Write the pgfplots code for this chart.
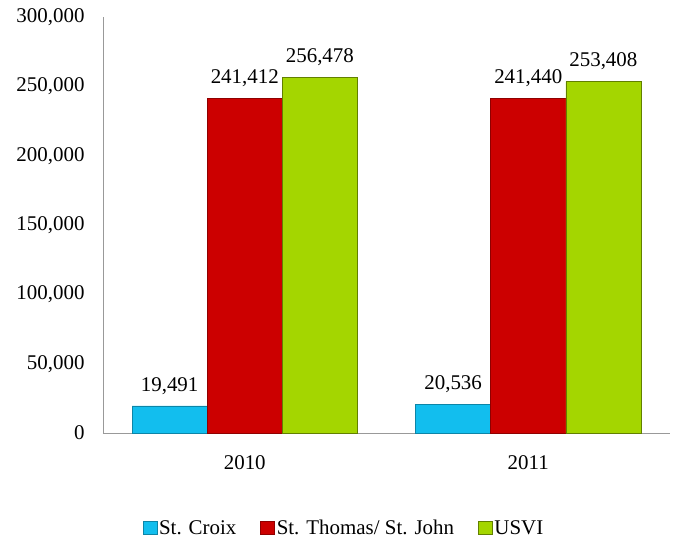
\documentclass[border=0pt]{standalone}
\usepackage{fontspec}
\setmainfont{Liberation Serif}
\newfontfamily\tnr{Liberation Serif}
\usepackage{pgfplots}
\pgfplotsset{compat=1.18}

\definecolor{croix}{RGB}{18,190,238}
\definecolor{thomas}{RGB}{204,0,0}
\definecolor{usvi}{RGB}{164,214,0}

\begin{document}
\begin{tikzpicture}[font=\tnr\fontsize{21}{25}\selectfont]
\begin{axis}[
    name=ax,
    scale only axis,
    width=567bp, height=416bp,
    ybar=0pt, bar width=0.265,
    xmin=-0.5, xmax=1.5,
    ymin=0, ymax=300000,
    xtick={0,1}, xticklabels={2010,2011},
    ytick={0,50000,100000,150000,200000,250000,300000},
    yticklabels={0,{50,000},{100,000},{150,000},{200,000},{250,000},{300,000}},
    scaled y ticks=false,
    axis x line*=bottom, axis y line*=left,
    axis line style={draw=gray!80, line width=1pt},
    major tick length=0pt,
    tick label style={font=\tnr\fontsize{21}{25}\selectfont},
    yticklabel style={xshift=-15bp},
    xticklabel style={yshift=-19bp},
    point meta=explicit symbolic,
    nodes near coords,
    nodes near coords style={yshift=8bp, text=black, font=\tnr\fontsize{21}{25}\selectfont},
    legend style={at={(0.425,-0.228)}, anchor=center, draw=none,
        font=\tnr\fontsize{21}{25}\selectfont,
        legend columns=3,
        /tikz/every even column/.append style={column sep=22bp}},
    legend image code/.code={\draw[#1] (0bp,-6.5bp) rectangle (14bp,6.5bp);},
]
\addplot[fill=croix, draw=croix!70!black] coordinates {(0,19491) [19,491] (1,20536) [20,536]};
\addlegendentry{St. Croix}
\addplot[fill=thomas, draw=thomas!70!black] coordinates {(0,241412) [241,412] (1,241440) [241,440]};
\addlegendentry{St. Thomas/ St. John}
\addplot[fill=usvi, draw=usvi!60!black] coordinates {(0,256478) [256,478] (1,253408) [253,408]};
\addlegendentry{USVI}
\end{axis}
\pgfresetboundingbox
\path[use as bounding box] ([xshift=-103bp,yshift=-107bp]ax.south west) rectangle ++(676bp,540bp);
\end{tikzpicture}
\end{document}
